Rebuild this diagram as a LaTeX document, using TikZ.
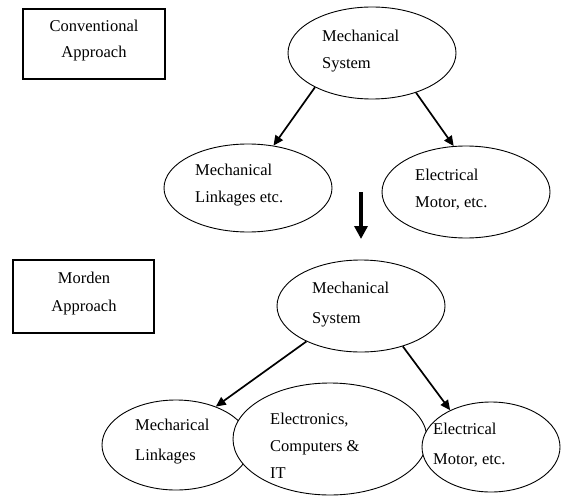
\documentclass[tikz,border=0pt]{standalone}
\usepackage{fontspec}
\setmainfont{Liberation Serif}
\usetikzlibrary{shapes.geometric,arrows.meta}
\begin{document}
\begin{tikzpicture}[x=1pt,y=-1pt,
  lbl/.style={font=\fontsize{16.5}{27}\selectfont, align=left, inner sep=0pt},
  lblc/.style={font=\fontsize{16.5}{26}\selectfont, align=center, inner sep=0pt},
  ell/.style={draw, ellipse, line width=0.9pt, inner sep=0pt, fill=white},
  titlebox/.style={draw, line width=1.3pt},
  conn/.style={line width=1.7pt, -{Triangle[length=10pt,width=9pt]}},
  bigarrow/.style={line width=4.5pt, -{Triangle[length=13pt,width=13pt]}}]
\useasboundingbox (0,0) rectangle (561,497);

% Conventional section
\draw[titlebox] (23,9) rectangle (165,79);
\node[lblc] (conv) at (94,41) {Conventional\\Approach};

\node[ell, minimum width=168pt, minimum height=92pt] (ms1) at (372,53) {};
\node[lbl, anchor=west] (ms1t) at (322,51) {Mechanical\\System};

\node[ell, minimum width=168pt, minimum height=88pt] (ml1) at (248,188) {};
\node[lbl, anchor=west] (ml1t) at (195,185) {Mechanical\\Linkages etc.};

\node[ell, minimum width=168pt, minimum height=92pt] (em1) at (466,192) {};
\node[lbl, anchor=west] (em1t) at (415,190) {Electrical\\Motor, etc.};

\draw[conn] (ms1.211) -- (ml1.59);
\draw[conn] (ms1.318) -- (em1.105);

% transition arrow
\coordinate (ta) at (361,192);
\coordinate (tb) at (361,239);
\draw[bigarrow] (ta) -- (tb);

% Modern section
\draw[titlebox] (13,260) rectangle (154,333);
\node[lblc, font=\fontsize{16.5}{28}\selectfont] (mod) at (84,294) {Morden\\Approach};

\node[ell, minimum width=168pt, minimum height=92pt] (ms2) at (361,306) {};
\node[lbl, font=\fontsize{16.5}{30}\selectfont, anchor=west] (ms2t) at (312,305) {Mechanical\\System};

\node[ell, minimum width=148pt, minimum height=90pt] (ml2) at (176,445) {};
\node[ell, minimum width=194pt, minimum height=112pt] (ec2) at (330,439) {};
\node[ell, minimum width=138pt, minimum height=90pt] (em2) at (491,447) {};

\node[lbl, font=\fontsize{16.5}{30}\selectfont, anchor=west] (ml2t) at (135,442) {Mecharical\\Linkages};
\node[lbl, anchor=west] (ec2t) at (270,446) {Electronics,\\Computers \&\\IT};
\node[lbl, font=\fontsize{16.5}{30}\selectfont, anchor=west] (em2t) at (433,445) {Electrical\\Motor, etc.};

\draw[conn] (ms2.213) -- (ml2.44);
\draw[conn] (ms2.316) -- (em2.138);
\end{tikzpicture}
\end{document}
